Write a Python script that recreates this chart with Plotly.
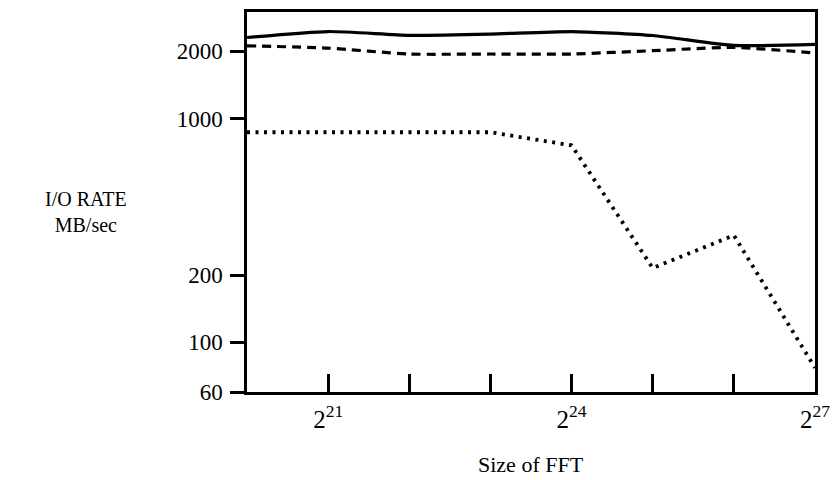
import plotly.graph_objects as go

fft_exp = [20, 21, 22, 23, 24, 25, 26, 27]
fft_size = [2 ** e for e in fft_exp]
solid_rate = [2307, 2453, 2360, 2390, 2453, 2355, 2126, 2147]
dashed_rate = [2118, 2068, 1946, 1946, 1946, 2014, 2083, 1966]
dotted_rate = [870, 870, 870, 870, 760, 215, 301, 77]

ytick_vals = [60, 100, 200, 1000, 2000]
xtick_exp = [21, 22, 23, 24, 25, 26, 27]
xtick_text = ["2<sup>21</sup>", "", "", "2<sup>24</sup>", "", "", "2<sup>27</sup>"]

FONT = "Liberation Serif"

fig = go.Figure()
fig.add_trace(go.Scatter(x=fft_size, y=solid_rate, mode="lines",
                         line=dict(color="black", width=3.2, shape="spline", smoothing=0.6)))
fig.add_trace(go.Scatter(x=fft_size, y=dashed_rate, mode="lines",
                         line=dict(color="black", width=3.2, dash="9px,6px", shape="spline", smoothing=0.6)))
fig.add_trace(go.Scatter(x=fft_size, y=dotted_rate, mode="lines",
                         line=dict(color="black", width=3.8, dash="3px,5.5px")))

fig.update_layout(
    width=839, height=480,
    margin=dict(l=247, r=21, t=9, b=88),
    plot_bgcolor="white", paper_bgcolor="white",
    showlegend=False,
    font=dict(family=FONT, color="black", size=21),
    xaxis=dict(type="log", range=[20 * 0.30103, 27 * 0.30103],
               tickvals=[2 ** e for e in xtick_exp], ticktext=xtick_text,
               ticks="inside", ticklen=18, tickwidth=2.5, tickcolor="black",
               showline=True, linecolor="black", linewidth=2.5, mirror=True,
               showgrid=False, zeroline=False, ticklabelstandoff=3,
               tickfont=dict(family=FONT, size=25)),
    yaxis=dict(type="log", range=[1.7782, 3.477],
               tickvals=ytick_vals, ticktext=[str(v) for v in ytick_vals],
               ticks="outside", ticklen=14, tickwidth=2.5, tickcolor="black",
               showline=True, linecolor="black", linewidth=2.5, mirror=True,
               showgrid=False, zeroline=False, ticklabelstandoff=3,
               tickfont=dict(family=FONT, size=23)),
    annotations=[
        dict(text="I/O RATE<br>MB/sec", xref="paper", yref="paper",
             x=-0.284, y=0.475, showarrow=False, xanchor="center", yanchor="middle",
             font=dict(family=FONT, size=20)),
        dict(text="Size of FFT", xref="paper", yref="paper",
             x=0.5, y=-0.19, showarrow=False, xanchor="center", yanchor="middle",
             font=dict(family=FONT, size=22)),
    ],
)

fig.write_html("out.html")
